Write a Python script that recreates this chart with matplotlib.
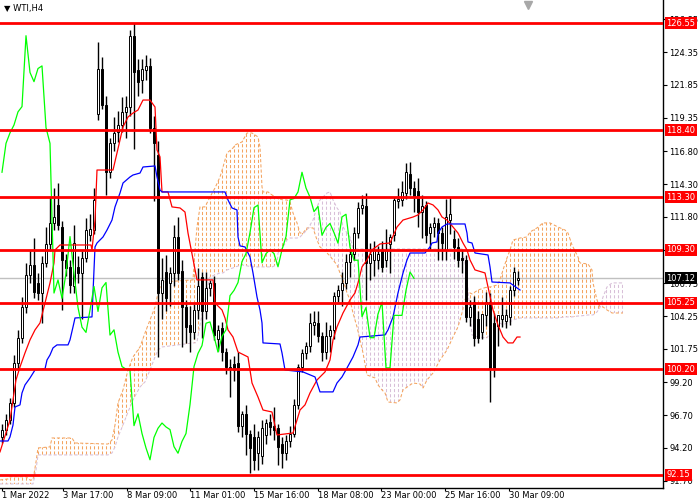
import numpy as np
import matplotlib
matplotlib.use("Agg")
import matplotlib.pyplot as plt
from matplotlib.path import Path
from matplotlib.transforms import blended_transform_factory

# H4 candles, WTI, 1 Mar - 30 Mar 2022
opens = [95.0, 95.6, 96.3, 97.6, 100.7, 102.6, 104.9, 107.4, 108.1, 106.8,
         106.0, 108.3, 109.7, 111.3, 112.7, 111.0, 108.5, 108.0, 106.5, 108.0,
         107.5, 108.7, 110.4, 110.8, 119.6, 123.1, 120.3, 115.2, 117.4, 118.3,
         118.8, 119.8, 120.2, 125.6, 123.0, 122.2, 123.0, 123.3, 118.6, 116.5,
         106.0, 107.6, 106.8, 107.5, 110.3, 107.7, 104.9, 103.6, 103.0, 104.7,
         107.2, 104.6, 106.4, 106.8, 102.5, 103.3, 101.5, 100.4, 100.6, 100.7,
         95.9, 96.8, 95.3, 95.0, 93.8, 93.6, 95.2, 96.2, 95.9, 95.7,
         94.5, 93.8, 94.7, 95.3, 97.5, 100.4, 101.4, 102.0, 103.6, 103.7,
         102.7, 101.5, 102.7, 103.2, 105.8, 106.2, 106.8, 108.4, 109.0, 110.6,
         112.5, 112.6, 108.3, 108.5, 108.5, 109.3, 108.5, 109.7, 110.4, 113.0,
         113.1, 113.6, 115.1, 114.0, 113.8, 112.2, 112.7, 110.6, 111.0, 111.3,
         110.6, 109.3, 111.6, 110.1, 109.5, 108.7, 108.5, 104.2, 105.3, 104.0,
         103.0, 104.3, 105.3, 103.7, 103.5, 104.0, 103.9, 104.2, 106.2, 107.0]
highs = [96.0, 96.8, 98.0, 101.3, 103.2, 105.7, 108.3, 109.3, 110.2, 107.5,
         108.8, 111.0, 113.3, 114.0, 114.4, 111.5, 109.0, 108.5, 111.2, 108.8,
         109.2, 111.7, 112.0, 114.0, 125.1, 124.0, 121.0, 117.8, 119.4, 119.9,
         120.9, 121.0, 126.0, 126.6, 123.8, 123.8, 124.1, 123.9, 119.5, 117.6,
         108.7, 108.9, 108.0, 111.2, 111.8, 108.5, 105.5, 105.0, 105.2, 107.9,
         107.6, 107.6, 107.0, 107.3, 103.6, 103.8, 101.8, 101.0, 101.2, 101.5,
         97.0, 97.5, 95.6, 96.0, 95.5, 96.3, 96.4, 96.8, 97.3, 96.0,
         95.0, 95.2, 95.9, 97.9, 100.6, 101.7, 102.3, 104.5, 104.6, 104.6,
         103.0, 103.8, 103.6, 106.1, 106.6, 107.6, 109.0, 109.3, 111.0, 112.9,
         113.5, 113.6, 109.8, 110.0, 109.6, 110.0, 110.9, 110.5, 113.3, 114.0,
         114.5, 115.9, 116.0, 114.5, 114.8, 113.5, 113.0, 111.3, 111.8, 111.7,
         111.0, 113.2, 113.3, 110.8, 110.2, 109.3, 108.9, 105.5, 105.8, 104.6,
         104.2, 106.1, 106.0, 104.5, 104.3, 105.7, 104.8, 106.5, 108.0, 107.7]
lows = [94.6, 95.2, 96.0, 97.3, 100.2, 102.2, 104.5, 106.8, 105.6, 105.5,
        103.7, 108.0, 109.2, 110.8, 110.8, 104.7, 107.3, 106.0, 106.0, 106.8,
        104.0, 108.4, 110.0, 110.5, 119.2, 120.0, 113.5, 114.8, 116.8, 117.5,
        118.3, 117.8, 119.5, 117.0, 121.0, 121.2, 122.2, 118.2, 113.0, 101.1,
        104.0, 104.6, 105.0, 106.5, 107.0, 101.9, 102.2, 101.5, 102.5, 104.0,
        102.6, 104.0, 105.8, 102.4, 101.6, 100.8, 99.8, 98.1, 99.3, 95.4,
        95.0, 93.7, 92.3, 92.5, 92.5, 93.0, 94.5, 95.2, 94.8, 92.9,
        92.7, 93.3, 94.3, 95.0, 97.2, 100.0, 101.0, 101.5, 102.8, 102.3,
        100.8, 101.0, 101.5, 102.5, 105.3, 105.0, 106.3, 107.2, 108.5, 110.2,
        112.0, 105.5, 107.0, 107.3, 107.8, 107.6, 108.0, 107.5, 110.0, 112.5,
        112.6, 113.2, 113.5, 112.2, 111.0, 110.2, 109.8, 109.3, 110.3, 108.5,
        108.5, 108.5, 110.5, 108.6, 108.0, 107.5, 103.8, 103.5, 102.0, 102.2,
        102.5, 103.5, 97.7, 99.6, 102.0, 103.4, 103.3, 103.6, 105.8, 106.6]
closes = [95.6, 96.3, 97.6, 100.7, 102.6, 104.9, 107.4, 108.1, 106.1, 106.0,
          108.3, 109.7, 111.3, 111.8, 111.2, 108.5, 107.9, 106.6, 109.8, 107.5,
          108.7, 110.8, 110.9, 113.1, 123.1, 120.3, 115.2, 117.4, 118.2, 118.8,
          119.8, 120.2, 125.6, 122.8, 122.1, 123.1, 123.3, 118.6, 117.4, 106.0,
          107.0, 105.6, 107.5, 110.3, 107.5, 104.9, 103.4, 103.0, 104.7, 106.5,
          104.6, 106.4, 106.8, 102.8, 103.2, 101.5, 100.4, 100.2, 100.1, 95.9,
          96.8, 95.3, 94.2, 93.3, 95.0, 95.7, 96.1, 95.8, 95.6, 94.3,
          93.8, 94.7, 95.3, 97.5, 100.4, 101.4, 102.0, 103.7, 103.8, 102.7,
          101.5, 102.7, 103.2, 105.8, 106.2, 106.8, 108.4, 109.0, 110.6, 112.5,
          112.7, 108.3, 109.0, 109.3, 109.0, 108.0, 109.3, 110.3, 113.1, 113.2,
          113.7, 115.2, 114.0, 113.3, 112.2, 112.6, 110.4, 111.0, 111.3, 110.6,
          109.8, 111.8, 112.0, 109.5, 108.5, 108.5, 104.2, 104.9, 102.6, 102.6,
          104.4, 105.3, 100.3, 100.3, 104.3, 104.3, 104.3, 106.2, 107.6, 107.12]

# Tenkan-sen (red) and Kijun-sen (blue), bar index / price
tenkan_idx = [-0.5, 2, 3.5, 4.5, 5.75, 7, 8.25, 9.5, 10.75, 12, 13, 13.25, 14, 14.5,
              22.25, 22.5, 23.25, 23.75, 27.75, 28.75, 29.5, 30.25, 31.5, 32.75, 34,
              35.25, 37, 38.25, 38.75, 39.5, 40, 41.5, 42.5, 44.5, 45.75, 46.5, 48.75,
              52.75, 53.25, 55, 55.75, 56.5, 57.75, 59, 61.5, 62.5, 64, 65.25, 67.5,
              68.75, 72.75, 73.75, 74.5, 75.75, 77, 78.75, 80.75, 82, 82.75, 83.75,
              85.25, 87, 88.25, 89, 90, 91.25, 92.5, 94.5, 97, 98.75, 100.25, 102.75,
              104, 105.25, 106.5, 107.75, 109, 110, 111.25, 112.75, 114, 115.25,
              116.25, 117, 118.25, 120.75, 121.5, 122.75, 124, 125.25, 126.5, 127.75,
              128.75, 129.5]
tenkan = [93.90, 96.33, 99.38, 100.37, 101.44, 102.43, 103.19, 103.72, 105.24, 106.77,
          108.29, 109.28, 109.51, 109.66, 109.66, 109.28, 111.56, 115.37, 115.37, 116.67,
          117.66, 118.65, 119.41, 119.71, 119.94, 120.70, 120.70, 120.17, 116.90, 116.37,
          113.70, 113.70, 112.56, 112.48, 112.17, 110.57, 107.00, 107.00, 105.24, 104.71,
          104.10, 103.19, 102.65, 101.51, 101.13, 99.15, 98.08, 97.09, 96.94, 95.19,
          95.34, 96.33, 97.09, 97.48, 98.39, 99.38, 99.99, 100.90, 102.43, 103.42,
          104.48, 105.47, 106.01, 106.77, 107.99, 108.52, 109.28, 109.74, 109.81, 111.03,
          111.56, 111.79, 111.95, 112.33, 112.86, 112.71, 112.33, 111.79, 111.56, 111.03,
          110.57, 109.81, 109.28, 108.52, 107.76, 107.53, 106.46, 104.71, 103.57, 102.65,
          102.20, 102.20, 102.65, 102.65]
kijun_idx = [-0.5, 1.5, 2, 2.75, 3.25, 4.5, 5, 5.75, 7, 8.25, 10.75, 11.25, 12, 12.75,
             13.75, 16.5, 17, 17.75, 18.25, 22.5, 22.75, 23.25, 23.75, 25.25, 26.25,
             27.5, 28.25, 29.5, 30.25, 32, 32.75, 34.5, 35.25, 38.25, 38.75, 39.5, 40,
             55.75, 56.5, 57.5, 58.75, 59, 59.5, 60.75, 62, 62.75, 63.75, 64.5, 65,
             65.25, 69.5, 70, 70.75, 75.25, 78.25, 79.5, 82.75, 83.75, 85, 86.25, 87.75,
             89, 89.5, 95.75, 96.5, 97.75, 99, 100.25, 101.25, 102, 105.75, 107, 107.5,
             108.75, 109, 110, 111.25, 115.75, 116.25, 116.5, 117.5, 118.25, 121.5, 122,
             122.5, 127, 127.75, 128.75, 129.5]
kijun = [94.73, 94.73, 95.04, 95.95, 97.32, 97.48, 98.39, 99.00, 99.53, 100.14,
         100.22, 100.90, 101.28, 101.82, 102.05, 102.05, 102.43, 103.42, 104.10, 104.18,
         106.01, 109.51, 109.81, 110.27, 110.80, 111.56, 112.56, 113.62, 114.38, 114.84,
         114.99, 115.14, 115.60, 115.68, 114.84, 113.85, 113.70, 113.70, 113.09, 112.48,
         112.33, 110.27, 109.59, 109.51, 108.75, 107.53, 105.70, 104.71, 103.72, 102.20,
         102.12, 101.44, 100.14, 99.99, 99.61, 98.47, 98.47, 99.15, 99.61, 100.29,
         101.13, 102.05, 102.65, 102.81, 103.19, 104.18, 106.01, 107.53, 108.52, 109.05,
         109.05, 109.51, 109.81, 109.89, 110.57, 111.03, 111.26, 111.26, 110.57, 109.89,
         109.81, 109.05, 108.90, 107.99, 106.84, 106.77, 106.61, 106.39, 106.23]

# Senkou span A / B (cloud, shifted 26 bars ahead)
cloud_idx = [-0.5, 1.5, 2, 6, 7, 7.75, 8.5, 9, 12, 12.5, 17.5, 18.25, 26.5, 27.5, 28.25,
             29, 30.25, 31.5, 32.75, 34.5, 35.75, 37, 38.25, 39, 40, 47.75, 48.25, 48.75,
             49.5, 50.75, 52, 53.25, 54.5, 55.25, 56.25, 57.75, 58.25, 60, 61.25, 62.5,
             64, 64.5, 65, 65.25, 66.5, 67.5, 68.75, 69, 70.25, 71.25, 72, 72.75, 73.75,
             74.5, 75.25, 76.25, 77.75, 78.75, 79.5, 81.25, 82, 82.75, 83.75, 84.5, 85.25,
             86.25, 87, 87.75, 88.75, 89.5, 90.25, 91.25, 93.25, 94, 95, 95.75, 96.5,
             98.75, 99.5, 100.25, 102.75, 104.5, 105.25, 106.25, 107.75, 109.5, 111.25,
             112.75, 114, 115, 115.75, 116.5, 117, 117.5, 119, 121.25, 122, 123.75, 124.5,
             125.25, 126.25, 127, 127.75, 129.5, 131.25, 132, 133.75, 135.25, 137, 139,
             140.75, 141.5, 142.5, 144, 144.5, 146.5, 147.5, 147.75, 148.75, 149.5,
             150.25, 151.25, 152.5, 155.25]
span_a = [91.76, 91.84, 92.01, 92.01, 91.76, 91.76, 93.13, 94.20, 94.28, 94.96,
          94.96, 94.58, 94.50, 94.81, 95.95, 97.63, 98.62, 100.14, 101.13, 101.89,
          102.96, 103.95, 104.94, 106.01, 106.84, 107.00, 109.28, 111.03, 112.56, 112.56,
          113.32, 114.00, 114.84, 115.60, 116.67, 117.05, 117.28, 117.51, 118.19, 118.19,
          117.89, 117.12, 114.08, 113.70, 113.70, 113.47, 113.24, 113.20, 113.09, 113.09,
          112.94, 112.10, 111.34, 110.57, 110.57, 110.96, 110.96, 110.04, 109.51, 109.05,
          108.82, 108.52, 108.14, 107.53, 107.00, 106.01, 105.47, 104.48, 103.42, 102.43,
          101.44, 99.76, 99.53, 99.00, 98.62, 98.39, 97.70, 97.63, 97.86, 98.62,
          99.15, 99.07, 98.77, 99.38, 99.91, 100.90, 101.66, 102.65, 103.42, 104.48,
          105.47, 106.08, 106.01, 105.93, 106.23, 106.46, 106.46, 106.61, 107.00, 107.76,
          108.67, 109.28, 110.04, 110.19, 110.27, 110.65, 110.96, 111.34, 111.34, 111.03,
          110.80, 110.57, 109.66, 108.75, 108.29, 108.21, 107.76, 106.77, 105.47, 104.94,
          104.94, 104.71, 104.48, 104.48]
span_b = [91.46, 91.46, 91.46, 91.46, 91.46, 91.46, 92.53, 93.67, 93.67, 93.67,
          93.67, 93.67, 93.67, 93.82, 94.28, 95.04, 95.95, 96.94, 97.86, 98.85,
          99.23, 100.14, 101.13, 101.66, 101.89, 102.20, 102.20, 102.27, 103.57, 105.47,
          107.22, 107.38, 107.53, 107.53, 107.76, 107.91, 107.99, 108.14, 108.07, 107.99,
          107.99, 107.99, 107.99, 107.99, 107.99, 107.99, 108.14, 109.05, 109.51, 110.04,
          110.19, 110.19, 110.19, 110.27, 110.50, 110.80, 111.56, 112.56, 113.09, 113.62,
          113.70, 113.09, 112.48, 112.17, 111.03, 110.57, 110.27, 109.43, 109.36, 109.36,
          109.36, 109.36, 109.36, 109.36, 109.36, 109.36, 109.36, 109.36, 109.36, 109.36,
          109.36, 109.36, 109.36, 109.36, 109.36, 109.36, 109.36, 109.36, 109.36, 109.36,
          108.37, 106.23, 104.48, 102.81, 102.65, 102.58, 102.96, 103.34, 103.72, 103.57,
          103.72, 103.80, 103.95, 104.10, 104.10, 104.10, 104.10, 104.10, 104.10, 104.10,
          104.18, 104.18, 104.18, 104.25, 104.25, 104.33, 104.33, 104.33, 104.56, 104.90,
          105.70, 106.46, 106.77, 106.77]

levels = [126.55, 118.40, 113.30, 109.30, 105.25, 100.20, 92.15]
last_price = 107.12
price_ticks = [126.85, 124.35, 121.85, 119.35, 116.80, 114.30, 111.80, 109.30,
               106.75, 104.25, 101.75, 99.20, 96.70, 94.20, 91.70]
date_pos = [0, 15.25, 31.25, 47, 63, 79, 94.75, 110.75, 126.75]
date_labels = ["1 Mar 2022", "3 Mar 17:00", "8 Mar 09:00", "11 Mar 01:00", "15 Mar 16:00",
               "18 Mar 08:00", "23 Mar 00:00", "25 Mar 16:00", "30 Mar 09:00"]

ORANGE = "#F4A460"   # SandyBrown
THISTLE = "#D8BFD8"
DOTS = (0, (3, 2))

plt.rcParams["font.family"] = "DejaVu Sans"
fig = plt.figure(figsize=(7, 5), dpi=100)
ax = fig.add_axes([0, 12 / 500, 663 / 700, 488 / 500])
ax.set_xlim(-0.5, 165.25)
ax.set_ylim(91.15, 128.32)

# cloud: dotted vertical lines at every bar, clipped to the area between the spans
a = np.array(span_a)
b = np.array(span_b)
bars = np.arange(0, 156)
for cond, col in [(a >= b, ORANGE), (a < b, THISTLE)]:
    poly = ax.fill_between(cloud_idx, a, b, where=cond, interpolate=True,
                           facecolor="none", edgecolor="none")
    paths = poly.get_paths()
    if not paths:
        continue
    clip = Path.make_compound_path(*paths)
    lc = ax.vlines(bars, 90, 129, colors=col, linewidth=0.75, linestyles=[DOTS], zorder=1)
    lc.set_clip_path(clip, ax.transData)
ax.plot(cloud_idx, span_a, color=ORANGE, lw=0.75, ls=DOTS, zorder=1.2)
ax.plot(cloud_idx, span_b, color=THISTLE, lw=0.75, ls=DOTS, zorder=1.2)

ax.axhline(last_price, color="#C0C0C0", lw=1, zorder=0.5)

# candles
o = np.array(opens)
c = np.array(closes)
idx = np.arange(len(c))
up = c >= o
ax.vlines(idx, lows, highs, color="black", lw=1, zorder=3)
ax.bar(idx, np.abs(c - o), bottom=np.minimum(o, c), width=0.6,
       color=np.where(up, "white", "black"), edgecolor="black", linewidth=0.7, zorder=4)

# ichimoku lines
ax.plot(tenkan_idx, tenkan, color="red", lw=0.9, zorder=5)
ax.plot(kijun_idx, kijun, color="blue", lw=0.9, zorder=5)
ax.plot(idx[:-26], c[26:], color="#00FF00", lw=0.9, zorder=5)

# horizontal levels with price tags
trans = blended_transform_factory(ax.transAxes, ax.transData)
for lv in levels:
    ax.axhline(lv, color="red", lw=2, zorder=6)
    ax.text(1.005, lv, f"{lv:.2f}", transform=trans, color="white", fontsize=6,
            ha="left", va="center", zorder=10, clip_on=False,
            bbox=dict(boxstyle="square,pad=0.2", fc="red", ec="none"))
ax.text(1.005, last_price, f"{last_price:.2f}", transform=trans, color="white", fontsize=6,
        ha="left", va="center", zorder=10, clip_on=False,
        bbox=dict(boxstyle="square,pad=0.2", fc="black", ec="none"))

# axes look
for side in ["top", "left"]:
    ax.spines[side].set_visible(False)
for side in ["right", "bottom"]:
    ax.spines[side].set_linewidth(1)
ax.yaxis.tick_right()
ax.set_yticks(price_ticks)
# the 109.30 tick sits exactly under its level tag, so its own label is left blank
ax.set_yticklabels(["" if p in levels else f"{p:.2f}" for p in price_ticks])
ax.tick_params(axis="y", direction="out", length=3, width=0.8, pad=1.5, labelsize=6)
ax.set_xticks(date_pos)
ax.set_xticklabels(date_labels)
ax.tick_params(axis="x", direction="out", length=2, width=0.8, pad=0, labelsize=6)
for lab in ax.get_xticklabels():
    lab.set_horizontalalignment("left")

# chart header and shift marker
fig.text(4 / 700, 1 - 9 / 500, "\u25bc WTI,H4", fontsize=6, va="center", ha="left")
ax.plot([131.5], [0.99], marker="v", color="#A8A8A8", markersize=6,
        transform=blended_transform_factory(ax.transData, ax.transAxes), clip_on=False)

fig.savefig("out.png", dpi=100)
